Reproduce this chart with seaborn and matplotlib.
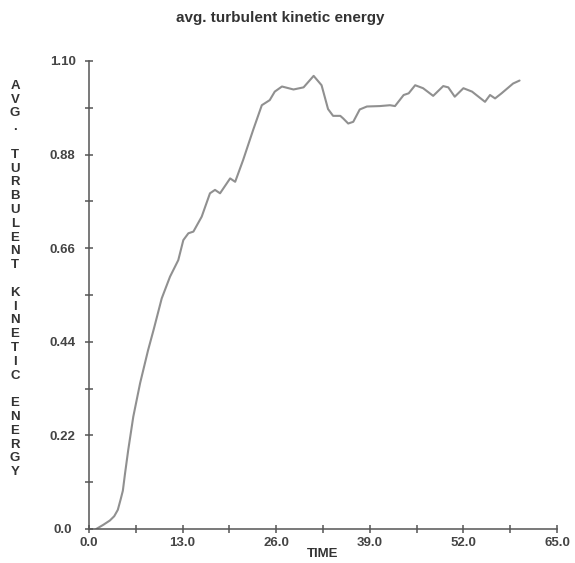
import numpy as np
import pandas as pd
import matplotlib
matplotlib.use('Agg')
import matplotlib.pyplot as plt
import seaborn as sns

# values
time = [1.0, 2.0, 2.9, 3.5, 4.0, 4.4, 4.7, 5.0, 5.45, 6.15, 7.1, 8.2, 9.0,
        10.1, 11.25, 12.4, 13.1, 13.8, 14.5, 15.65, 16.8, 17.5, 18.2, 19.6,
        20.3, 21.4, 22.8, 24.0, 25.1, 25.8, 26.8, 28.4, 29.8, 31.2, 32.3,
        33.2, 33.9, 34.9, 35.3, 36.0, 36.7, 37.6, 38.6, 40.4, 41.8, 42.5,
        43.7, 44.4, 45.3, 46.4, 47.8, 49.2, 49.9, 50.8, 52.0, 53.2, 55.0,
        55.7, 56.4, 57.3, 58.9, 59.8]
tke = [0.0, 0.01, 0.02, 0.03, 0.045, 0.07, 0.09, 0.13, 0.186, 0.264, 0.343,
       0.42, 0.47, 0.542, 0.593, 0.632, 0.679, 0.695, 0.699, 0.734, 0.789,
       0.797, 0.789, 0.824, 0.816, 0.867, 0.938, 0.996, 1.008, 1.028, 1.040,
       1.033, 1.038, 1.065, 1.043, 0.987, 0.971, 0.971, 0.965, 0.953, 0.957,
       0.986, 0.993, 0.994, 0.996, 0.994, 1.020, 1.024, 1.043, 1.036, 1.018,
       1.041, 1.038, 1.016, 1.036, 1.028, 1.004, 1.020, 1.012, 1.024, 1.047,
       1.054]

xticks = [0.0, 13.0, 26.0, 39.0, 52.0, 65.0]
yticks = [0.0, 0.22, 0.44, 0.66, 0.88, 1.10]
xlabels = ['0.0', '13.0', '26.0', '39.0', '52.0', '65.0']
ylabels = ['0.0', '0.22', '0.44', '0.66', '0.88', '1.10']

df = pd.DataFrame({'time': time, 'tke': tke})

sns.set_style('ticks')
plt.rcParams['font.family'] = ['Liberation Sans', 'DejaVu Sans']

fig = plt.figure(figsize=(5.75, 5.63), dpi=100)
ax = fig.add_axes([0.1548, 0.0604, 0.8139, 0.8313])

sns.lineplot(data=df, x='time', y='tke', ax=ax, color='#909090', linewidth=1.5)

ax.set_xlim(0, 65)
ax.set_ylim(0, 1.10)
ax.set_xticks(xticks)
ax.set_xticklabels(xlabels)
ax.set_yticks(yticks)
ax.set_yticklabels(ylabels)
ax.set_xticks(np.arange(6.5, 65, 13), minor=True)
ax.set_yticks(np.arange(0.11, 1.1, 0.22), minor=True)

axis_col = '#555555'
for side in ['left', 'bottom']:
    ax.spines[side].set_color(axis_col)
    ax.spines[side].set_linewidth(1.1)
sns.despine(ax=ax)
ax.tick_params(which='both', direction='inout', length=6, width=1.1,
               color=axis_col, labelcolor='#444444', labelsize=9.5)
ax.tick_params(axis='y', pad=16)
ax.tick_params(axis='x', pad=3)
for lab in ax.get_xticklabels():
    lab.set_fontweight('bold')
for lab in ax.get_yticklabels():
    lab.set_fontweight('bold')
    lab.set_ha('center')

ax.set_xlabel('TIME', fontsize=9.5, fontweight='bold', color='#333333', labelpad=-1)
ax.set_ylabel('')

ylab = 'AVG. TURBULENT KINETIC ENERGY'
fig.text(15 / 575, 1 - 279 / 563, '\n'.join(ylab), ha='center', va='center',
         fontsize=9.5, fontweight='bold', color='#333333', linespacing=1.2)

fig.suptitle('avg. turbulent kinetic energy', x=280 / 575, y=1 - 18 / 563,
             fontsize=11, fontweight='bold', color='#333333', va='center')

fig.savefig('out.png', dpi=100)
